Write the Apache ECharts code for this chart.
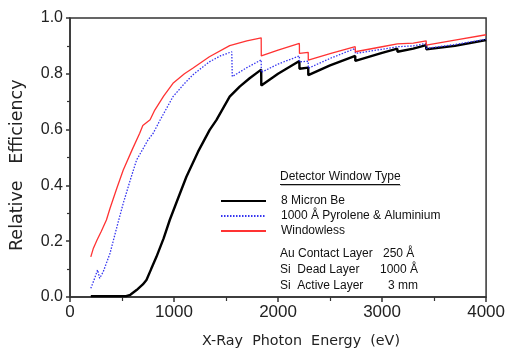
<!DOCTYPE html>
<html>
<head>
<meta charset="utf-8">
<script src="https://cdn.jsdelivr.net/npm/echarts@6/dist/echarts.min.js"></script>
<style>
html,body{margin:0;padding:0;background:#fff;}
#chart{width:508px;height:352px;}
</style>
</head>
<body>
<div id="chart"></div>
<script>
// Series names
const seriesNames = ['8 Micron Be', '1000 Å Pyrolene & Aluminium', 'Windowless'];

// 8 Micron Be: [energy eV, relative efficiency]
const beWindow = [[200,0.003],[540,0.003],[580,0.008],[640,0.025],[700,0.045],[735,0.061],[780,0.1],[831,0.144],[900,0.21],[959,0.276],[1040,0.355],[1119,0.431],[1230,0.52],[1343,0.599],[1407,0.634],[1535,0.718],[1631,0.754],[1727,0.784],[1838,0.815],[1839,0.758],[2000,0.800],[2205,0.846],[2206,0.818],[2290,0.822],[2291,0.795],[2500,0.830],[2742,0.864],[2743,0.846],[3000,0.875],[3147,0.890],[3148,0.879],[3300,0.890],[3424,0.903],[3425,0.888],[3700,0.900],[4000,0.921]];

// 1000 Å Pyrolene & Aluminium
const pyroleneAl = [[200,0.031],[230,0.06],[265,0.097],[285,0.067],[320,0.091],[385,0.157],[450,0.25],[512,0.336],[580,0.42],[640,0.491],[700,0.53],[750,0.563],[800,0.587],[860,0.63],[990,0.718],[1100,0.765],[1180,0.796],[1340,0.843],[1450,0.865],[1555,0.879],[1560,0.790],[1700,0.822],[1838,0.850],[1839,0.805],[2000,0.835],[2205,0.864],[2206,0.843],[2290,0.845],[2291,0.820],[2500,0.855],[2742,0.891],[2743,0.873],[3000,0.888],[3147,0.897],[3148,0.891],[3300,0.900],[3424,0.909],[3425,0.891],[3700,0.905],[4000,0.924]];

// Windowless
const windowless = [[200,0.144],[225,0.175],[260,0.204],[300,0.235],[350,0.276],[385,0.318],[450,0.39],[512,0.455],[600,0.53],[670,0.587],[700,0.615],[770,0.635],[815,0.67],[900,0.72],[990,0.766],[1100,0.80],[1180,0.82],[1340,0.861],[1535,0.901],[1700,0.918],[1838,0.929],[1839,0.864],[2000,0.885],[2205,0.909],[2206,0.873],[2290,0.877],[2291,0.849],[2500,0.872],[2742,0.897],[2743,0.879],[3000,0.897],[3147,0.907],[3148,0.901],[3300,0.910],[3424,0.918],[3425,0.903],[3700,0.921],[4000,0.940]];

// Tick settings
const xTicks = [0, 1000, 2000, 3000, 4000];
const yTicks = [0.0, 0.2, 0.4, 0.6, 0.8, 1.0];

// Legend note lines
const legendTitle = 'Detector Window Type';
const noteLabels = ['Au Contact Layer', 'Si  Dead Layer', 'Si  Active Layer'];
const noteValues = ['250 Å', '1000 Å', '3 mm'];

const chart = echarts.init(document.getElementById('chart'));
const axisColor = '#333';
const lblFont = 'Liberation Sans, Arial, sans-serif';
const legFont = 'Liberation Sans Narrow, Liberation Sans, Arial, sans-serif';

const graphics = [
  {type:'text', left:202, top:334, style:{text:'X-Ray  Photon  Energy  (eV)', font:'14.3px DejaVu Sans', fill:'#222'}},
  {type:'text', x:8, y:251, rotation:Math.PI/2, style:{text:'Relative   Efficiency', font:'17.5px DejaVu Sans', fill:'#222', textVerticalAlign:'top'}},
  {type:'text', left:280, top:171, style:{text:legendTitle, font:'12px ' + legFont, fill:'#111', textShadowColor:'#bbb', textShadowOffsetX:1, textShadowOffsetY:1, textShadowBlur:0}},
  {type:'line', shape:{x1:280, y1:184.5, x2:400, y2:184.5}, style:{stroke:'#111', lineWidth:1, shadowColor:'#bbb', shadowOffsetX:1, shadowOffsetY:1}}
];
noteLabels.forEach((t, i) => {
  graphics.push({type:'text', left:280, top:248 + i*16, style:{text:t, font:'12px ' + legFont, fill:'#111'}});
  graphics.push({type:'text', left:[383, 380, 388][i], top:248 + i*16, style:{text:noteValues[i], font:'12px ' + legFont, fill:'#111'}});
});

chart.setOption({
  animation:false,
  grid:{left:70, right:21, top:18, bottom:55, show:true, borderColor:axisColor, borderWidth:1.5},
  xAxis:{
    type:'value', min:xTicks[0], max:xTicks[xTicks.length-1], interval:1000,
    axisLine:{show:true, lineStyle:{color:axisColor, width:1.5}},
    axisTick:{show:true, length:5, inside:false, lineStyle:{color:axisColor, width:1.5}},
    minorTick:{show:true, splitNumber:2, length:4, lineStyle:{color:axisColor, width:1.2}},
    splitLine:{show:false},
    axisLabel:{fontFamily:lblFont, fontSize:17, color:'#222', margin:7, formatter:v => String(v)}
  },
  yAxis:{
    type:'value', min:yTicks[0], max:yTicks[yTicks.length-1], interval:0.2,
    axisLine:{show:true, lineStyle:{color:axisColor, width:1.5}},
    axisTick:{show:true, length:4, inside:false, lineStyle:{color:axisColor, width:1.5}},
    minorTick:{show:true, splitNumber:2, length:3, lineStyle:{color:axisColor, width:1.2}},
    splitLine:{show:false},
    axisLabel:{fontFamily:lblFont, fontSize:16, color:'#222', margin:7, formatter:v => v.toFixed(1)}
  },
  legend:{
    show:true, orient:'vertical', left:220, top:195, padding:0, itemWidth:45, itemHeight:14, itemGap:3,
    data:seriesNames,
    itemStyle:{opacity:0},
    textStyle:{fontFamily:legFont, fontSize:12, color:'#111', padding:[0,0,0,10]}
  },
  series:[
    {name:seriesNames[0], type:'line', data:beWindow, symbol:'none', z:3, lineStyle:{color:'#000', width:2.4}, itemStyle:{color:'#000'}},
    {name:seriesNames[1], type:'line', data:pyroleneAl, symbol:'none', z:4, lineStyle:{color:'#3535f0', width:1.3, type:[1.5,1.5]}, itemStyle:{color:'#3535f0'}},
    {name:seriesNames[2], type:'line', data:windowless, symbol:'none', z:5, lineStyle:{color:'#f33', width:1.3}, itemStyle:{color:'#f33'}}
  ],
  graphic:graphics
});
</script>
</body>
</html>
